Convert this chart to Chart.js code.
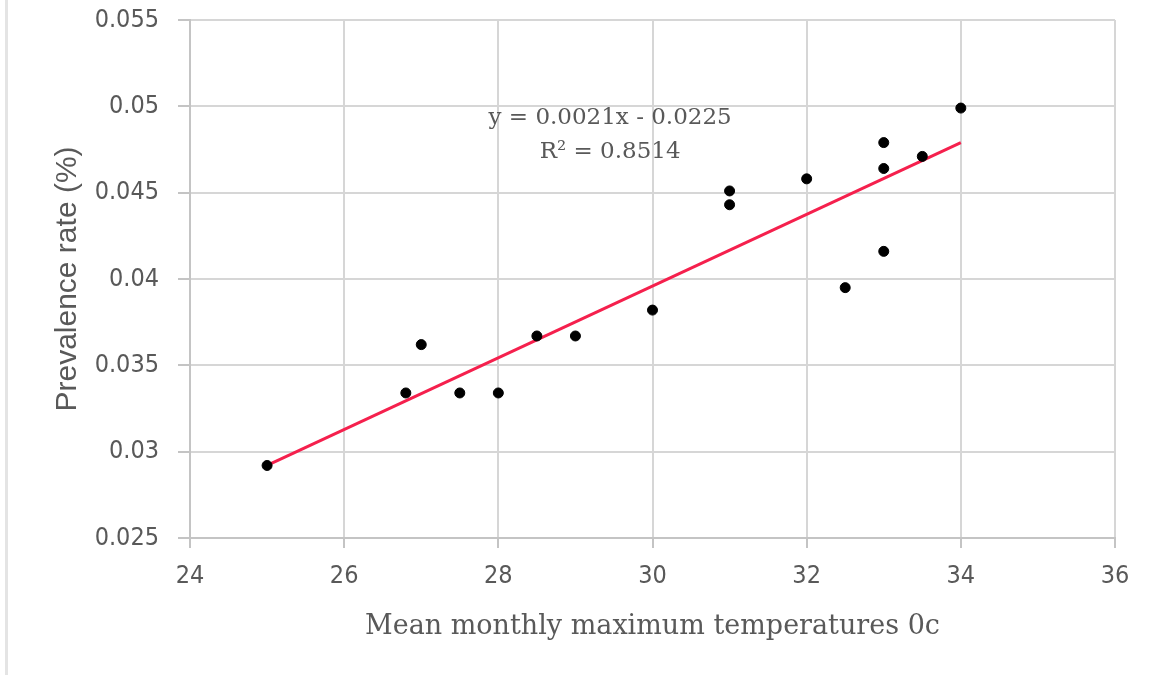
<!DOCTYPE html>
<html>
<head>
<meta charset="utf-8">
<script src="https://cdn.jsdelivr.net/npm/chart.js@4"></script>
<style>
  body { margin: 0; background: #fff; }
  #wrap { position: relative; width: 1164px; height: 675px; }
  #edge { position: absolute; left: 5px; top: 0; width: 3px; height: 675px; background: #e4e4e4; }
</style>
</head>
<body>
<div id="wrap">
  <canvas id="prevChart" width="1164" height="675"></canvas>
  <div id="edge"></div>
</div>
<script>
// valeurs
const temps = [25, 26.8, 27, 27.5, 28, 28.5, 29, 30, 31, 31, 32, 32.5, 33, 33, 33, 33.5, 34];
const prevalence = [0.0292, 0.0334, 0.0362, 0.0334, 0.0334, 0.0367, 0.0367, 0.0382, 0.0451, 0.0443, 0.0458, 0.0395, 0.0479, 0.0464, 0.0416, 0.0471, 0.0499];
const trendX = [25, 34];
const trendY = [0.0292, 0.0479];
const xTicks = [24, 26, 28, 30, 32, 34, 36];
const yTicks = [0.025, 0.03, 0.035, 0.04, 0.045, 0.05, 0.055];
const yTickLabels = ['0.025', '0.03', '0.035', '0.04', '0.045', '0.05', '0.055'];
const equation = ['y = 0.0021x - 0.0225', 'R² = 0.8514'];

const grey = '#595959';
const tickFont = { family: "'Liberation Sans Narrow', 'DejaVu Sans Condensed', sans-serif", size: 25 };

// texte de l'équation de tendance
const equationLabel = {
  id: 'equationLabel',
  afterDatasetsDraw(chart) {
    const { ctx, scales } = chart;
    const cx = scales.x.getPixelForValue(29.45);
    ctx.save();
    ctx.fillStyle = grey;
    ctx.font = "23px 'DejaVu Serif', serif";
    ctx.textAlign = 'center';
    ctx.textBaseline = 'middle';
    ctx.fillText(equation[0], cx, scales.y.getPixelForValue(0.0493));
    ctx.fillText(equation[1], cx, scales.y.getPixelForValue(0.04736));
    ctx.restore();
  }
};

const ctx = document.getElementById('prevChart').getContext('2d');
const prevChart = new Chart(ctx, {
  type: 'scatter',
  data: {
    datasets: [{
      label: 'Prevalence',
      data: temps.map((t, i) => ({ x: t, y: prevalence[i] })),
      backgroundColor: '#000',
      borderColor: '#000',
      pointRadius: 5,
      order: 1
    }, {
      type: 'line',
      label: 'Linear',
      data: trendX.map((t, i) => ({ x: t, y: trendY[i] })),
      borderColor: '#f5204d',
      borderWidth: 3,
      pointRadius: 0,
      fill: false,
      order: 2
    }]
  },
  options: {
    responsive: false,
    animation: false,
    layout: { padding: { left: 0, top: 20, right: 49, bottom: 0 } },
    plugins: { legend: { display: false }, tooltip: { enabled: false } },
    scales: {
      x: {
        type: 'linear',
        min: 24,
        max: 36,
        afterBuildTicks: s => { s.ticks = xTicks.map(v => ({ value: v })); },
        afterFit: s => { s.height = 137; s.paddingLeft = 0; s.paddingRight = 0; },
        ticks: { color: grey, font: tickFont, padding: 13, callback: v => String(v) },
        grid: { color: '#d6d6d6', lineWidth: 2, tickLength: 10, tickColor: '#c4c4c4' },
        border: { color: '#c4c4c4', width: 2 },
        title: {
          display: true,
          text: 'Mean monthly maximum temperatures 0c',
          color: grey,
          font: { family: "'DejaVu Serif', serif", size: 27 },
          padding: { top: 0, bottom: 32 }
        }
      },
      y: {
        type: 'linear',
        min: 0.025,
        max: 0.055,
        afterBuildTicks: s => { s.ticks = yTicks.map(v => ({ value: v })); },
        afterFit: s => { s.width = 190; s.paddingTop = 0; s.paddingBottom = 0; },
        ticks: { color: grey, font: tickFont, padding: 19, callback: (v, i) => yTickLabels[i] },
        grid: { color: '#d6d6d6', lineWidth: 2, tickLength: 12, tickColor: '#c4c4c4' },
        border: { color: '#c4c4c4', width: 2 },
        title: {
          display: true,
          text: 'Prevalence rate (%)',
          color: grey,
          font: { family: "'Liberation Sans', sans-serif", size: 30 },
          padding: { top: 50, bottom: 0 }
        }
      }
    }
  },
  plugins: [equationLabel]
});
</script>
</body>
</html>
